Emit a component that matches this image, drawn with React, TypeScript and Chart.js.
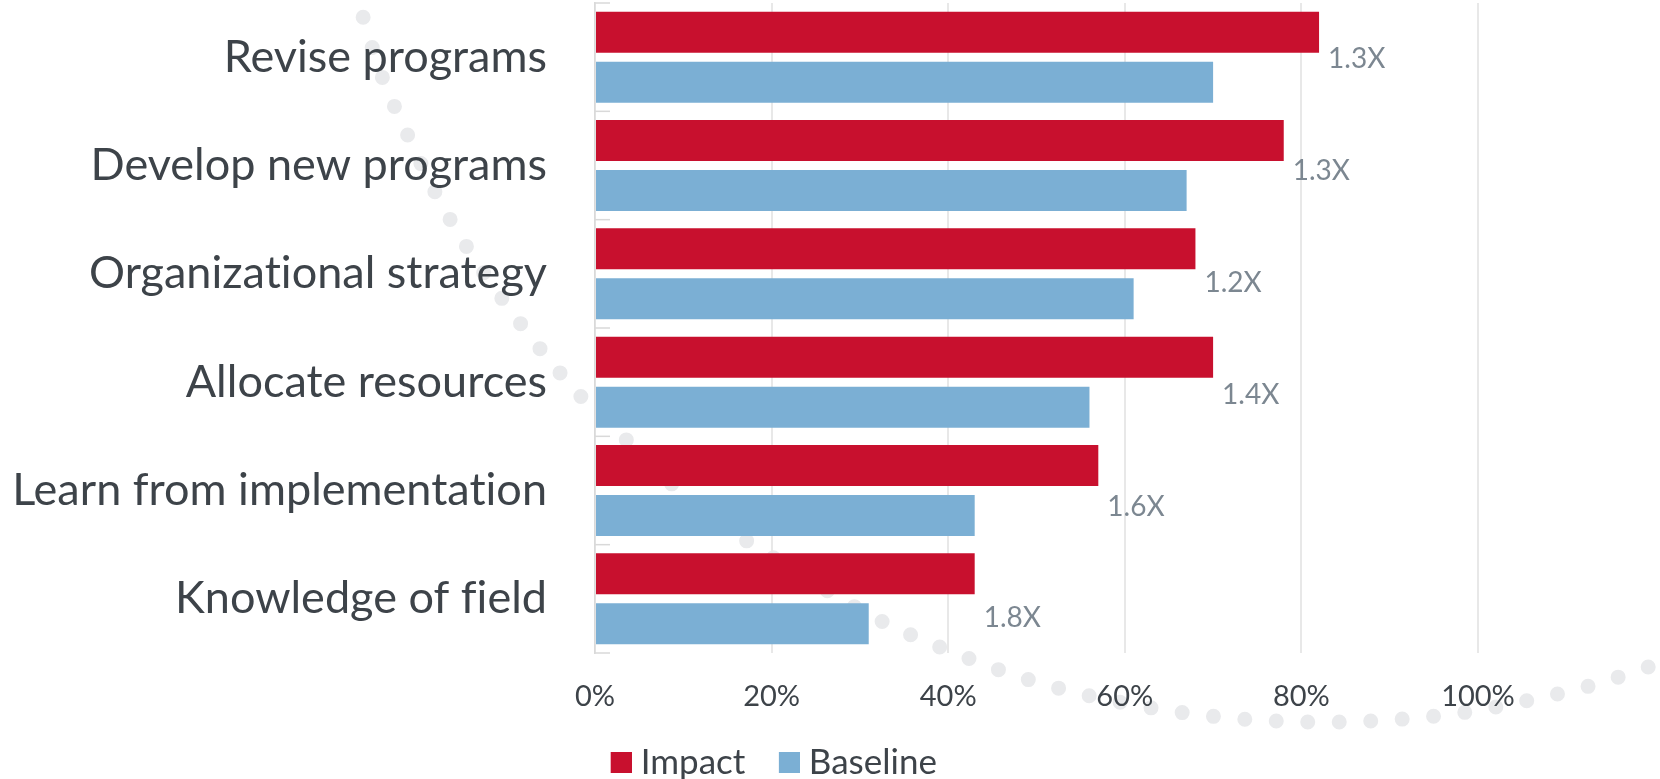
import React, { useEffect, useRef } from 'react';
import { Chart, registerables } from 'chart.js';

Chart.register(...registerables);

const categories = [
  'Revise programs',
  'Develop new programs',
  'Organizational strategy',
  'Allocate resources',
  'Learn from implementation',
  'Knowledge of field',
];
const impactValues = [82, 78, 68, 70, 57, 43];
const baselineValues = [70, 67, 61, 56, 43, 31];
const ratioLabels = ['1.3X', '1.3X', '1.2X', '1.4X', '1.6X', '1.8X'];
const xTickValues = [0, 20, 40, 60, 80, 100];
const seriesNames = ['Impact', 'Baseline'];
const seriesColors = ['#C8102E', '#7BAFD4'];

const TEXT = '#3d4349';
const LABEL_GREY = '#7c8791';

// decorative dotted arc in the background, as fractions of canvas width / height
const decoPath: [number, number][] = [
  [0.2151, -0.0128],
  [0.2187, 0.0218],
  [0.2307, 0.1014],
  [0.2464, 0.1772],
  [0.2633, 0.2516],
  [0.2831, 0.3235],
  [0.3048, 0.3903],
  [0.3289, 0.457],
  [0.3542, 0.5186],
  [0.3819, 0.5738],
  [0.4108, 0.6329],
  [0.4416, 0.6829],
  [0.5078, 0.7702],
  [0.5422, 0.8087],
  [0.5783, 0.8408],
  [0.6145, 0.8691],
  [0.6518, 0.8909],
  [0.6904, 0.9076],
  [0.7289, 0.9191],
  [0.7675, 0.9255],
  [0.806, 0.9268],
  [0.8452, 0.923],
  [0.8837, 0.914],
  [0.9217, 0.8986],
  [0.9596, 0.8793],
  [0.9964, 0.8537],
  [1.024, 0.834],
];

export default function App() {
  const ref = useRef<HTMLCanvasElement>(null);

  useEffect(() => {
    const canvas = ref.current!;
    Chart.defaults.font.family = "Lato, 'Open Sans', sans-serif";

    // legend swatch: 21px coloured square with a transparent margin on its left
    const SW = 21;
    const SE = 32;
    const makeSwatch = (color: string) => {
      const c = document.createElement('canvas');
      c.width = SW + SE;
      c.height = SW;
      const g = c.getContext('2d')!;
      g.fillStyle = color;
      g.fillRect(SE, 0, SW, SW);
      return c;
    };
    const swatches = seriesColors.map(makeSwatch);

    const decoPlugin = {
      id: 'deco',
      beforeDraw(chart: any) {
        const ctx = chart.ctx;
        try {
          (ctx as any).letterSpacing = '0.01px';
        } catch (e) {}
        const pts = decoPath.map(([fx, fy]) => [fx * chart.width, fy * chart.height]);
        ctx.save();
        ctx.beginPath();
        ctx.moveTo(pts[0][0], pts[0][1]);
        for (let i = 0; i < pts.length - 1; i++) {
          const p0 = pts[Math.max(0, i - 1)];
          const p1 = pts[i];
          const p2 = pts[i + 1];
          const p3 = pts[Math.min(pts.length - 1, i + 2)];
          ctx.bezierCurveTo(
            p1[0] + (p2[0] - p0[0]) / 6,
            p1[1] + (p2[1] - p0[1]) / 6,
            p2[0] - (p3[0] - p1[0]) / 6,
            p2[1] - (p3[1] - p1[1]) / 6,
            p2[0],
            p2[1]
          );
        }
        ctx.setLineDash([0, 31.5]);
        ctx.lineDashOffset = 3.5;
        ctx.lineCap = 'round';
        ctx.lineWidth = 15;
        ctx.strokeStyle = '#e9eaec';
        ctx.stroke();
        ctx.restore();
      },
    };

    const catTickPlugin = {
      id: 'catTicks',
      beforeDatasetsDraw(chart: any) {
        const ctx = chart.ctx;
        const y = chart.scales.y;
        const left = chart.chartArea.left;
        const n = categories.length;
        const step = (y.bottom - y.top) / n;
        ctx.save();
        ctx.strokeStyle = '#d9d9d9';
        ctx.lineWidth = 1.5;
        for (let i = 0; i <= n; i++) {
          const yy = i < n ? y.getPixelForValue(i) - step / 2 : y.getPixelForValue(n - 1) + step / 2;
          ctx.beginPath();
          ctx.moveTo(left, yy);
          ctx.lineTo(left + 15, yy);
          ctx.stroke();
        }
        ctx.restore();
      },
    };

    const ratioPlugin = {
      id: 'ratios',
      afterDatasetsDraw(chart: any) {
        const ctx = chart.ctx;
        const meta = chart.getDatasetMeta(0);
        ctx.save();
        ctx.font = "28px Lato, 'Open Sans', sans-serif";
        ctx.fillStyle = LABEL_GREY;
        ctx.textAlign = 'left';
        ctx.textBaseline = 'middle';
        meta.data.forEach((bar: any, i: number) => {
          ctx.fillText(ratioLabels[i], bar.x + 9, bar.y + bar.height * 0.66 + i * 3.5);
        });
        ctx.restore();
      },
    };

    const chart = new Chart(canvas, {
      type: 'bar',
      data: {
        labels: categories,
        datasets: [
          {
            label: seriesNames[0],
            data: impactValues,
            backgroundColor: seriesColors[0],
            categoryPercentage: 0.923,
            barPercentage: 0.82,
          },
          {
            label: seriesNames[1],
            data: baselineValues,
            backgroundColor: seriesColors[1],
            categoryPercentage: 0.923,
            barPercentage: 0.82,
          },
        ],
      },
      options: {
        indexAxis: 'y',
        responsive: false,
        animation: false,
        devicePixelRatio: 1,
        layout: { padding: { top: 3, bottom: 0, left: 0, right: 136 } },
        scales: {
          x: {
            type: 'linear',
            min: 0,
            max: 100,
            afterBuildTicks: (s: any) => {
              s.ticks = xTickValues.map((v) => ({ value: v }));
            },
            ticks: {
              callback: (v: any) => v + '%',
              color: TEXT,
              font: { size: 29 },
              padding: 26,
            },
            grid: { color: '#e8e8e8', lineWidth: 2, drawTicks: false },
            border: { display: false },
            afterFit: (s: any) => {
              s.height = 82;
              s.paddingLeft = 0;
              s.paddingRight = 0;
            },
          },
          y: {
            ticks: { color: TEXT, font: { size: 45 }, padding: 48 },
            grid: { display: false, drawTicks: false },
            border: { display: true, color: '#d9d9d9', width: 1.5 },
            afterFit: (s: any) => {
              s.width = 595;
              s.paddingTop = 0;
              s.paddingBottom = 0;
            },
          },
          yR: {
            type: 'linear',
            position: 'right',
            display: true,
            grid: { display: false, drawTicks: false },
            ticks: { display: false },
            border: { display: false },
            afterFit: (s: any) => {
              s.width = 46;
              s.paddingTop = 0;
              s.paddingBottom = 0;
            },
          },
        },
        plugins: {
          legend: {
            position: 'bottom',
            maxHeight: 44,
            labels: {
              usePointStyle: true,
              pointStyleWidth: 36,
              padding: 10,
              font: { size: 35 },
              color: TEXT,
              generateLabels: (c: any) =>
                c.data.datasets.map((ds: any, i: number) => ({
                  text: ds.label,
                  fillStyle: seriesColors[i],
                  strokeStyle: seriesColors[i],
                  lineWidth: 0,
                  hidden: false,
                  datasetIndex: i,
                  pointStyle: swatches[i],
                  fontColor: TEXT,
                })),
            },
          },
          tooltip: { enabled: false },
        },
      } as any,
      plugins: [decoPlugin, catTickPlugin, ratioPlugin],
    });

    return () => chart.destroy();
  }, []);

  return (
    <div style={{ position: 'fixed', left: 0, top: 0, width: 1660, height: 779, background: '#fff' }}>
      <canvas ref={ref} width={1660} height={779} style={{ display: 'block' }} />
    </div>
  );
}
